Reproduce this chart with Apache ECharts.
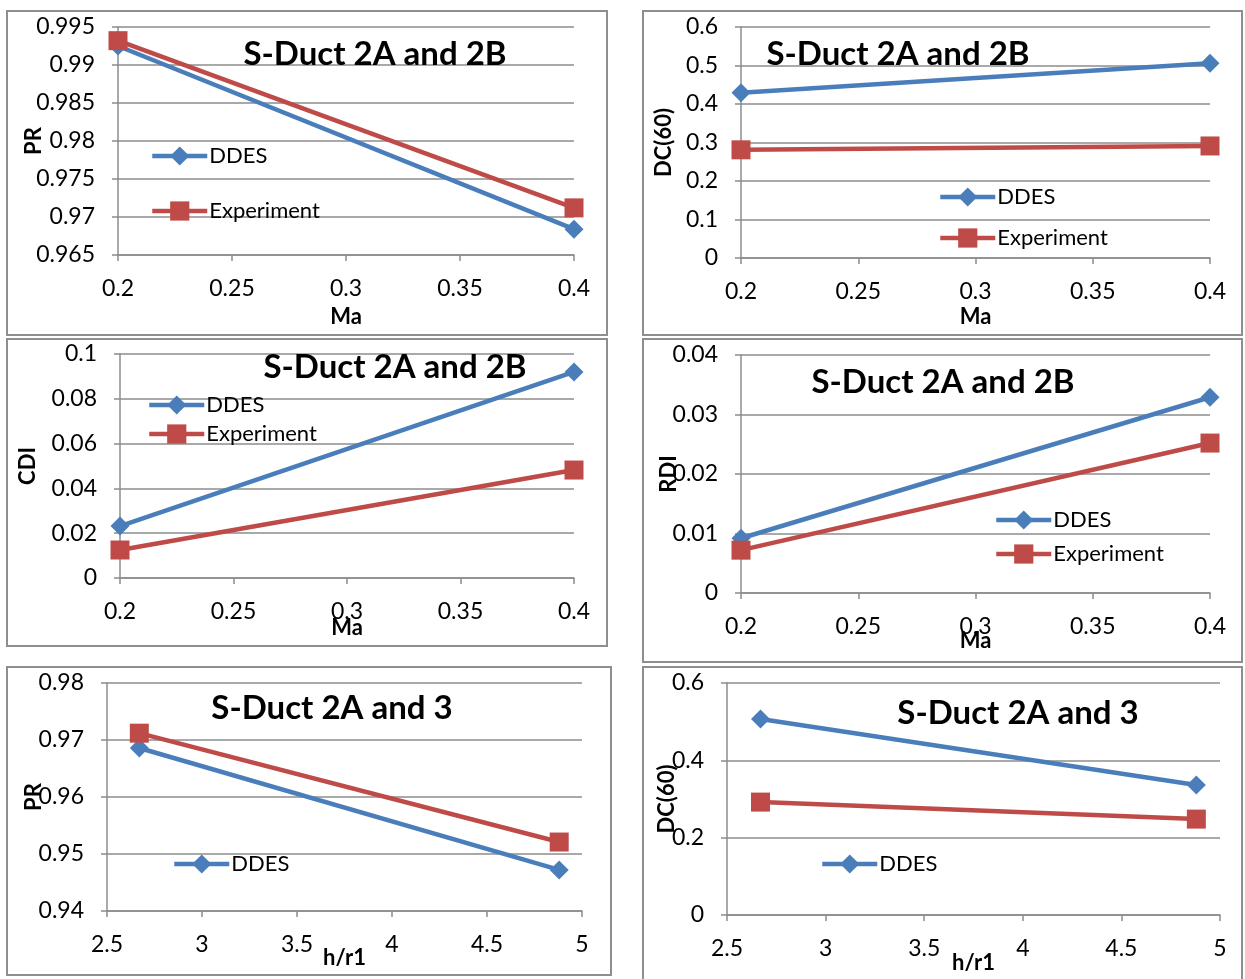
<!DOCTYPE html>
<html>
<head>
<meta charset="utf-8">
<script src="https://cdn.jsdelivr.net/npm/echarts@6/dist/echarts.min.js"></script>
<style>
  html, body { margin: 0; padding: 0; background: #fff; }
  #chart { width: 1245px; height: 979px; }
</style>
</head>
<body>
<div id="chart"></div>
<script>
// Mach number sweep (panels a-d) and h/r1 sweep (panels e-f)
const machValues = [0.2, 0.4];
const hr1Values = [2.67, 4.88];

// Pressure recovery vs Ma
const prMaDDES = [0.9925, 0.9684];
const prMaExp = [0.9932, 0.9712];
// DC(60) vs Ma
const dcMaDDES = [0.429, 0.506];
const dcMaExp = [0.281, 0.291];
// CDI vs Ma
const cdiMaDDES = [0.0232, 0.092];
const cdiMaExp = [0.0125, 0.0482];
// RDI vs Ma
const rdiMaDDES = [0.0092, 0.0329];
const rdiMaExp = [0.0072, 0.0252];
// Pressure recovery vs h/r1
const prHrDDES = [0.9686, 0.9472];
const prHrExp = [0.9712, 0.9521];
// DC(60) vs h/r1
const dcHrDDES = [0.507, 0.336];
const dcHrExp = [0.292, 0.248];

const titleAB = 'S-Duct 2A and 2B';
const title23 = 'S-Duct 2A and 3';

const BLUE = '#4a7ebb';
const RED = '#be4b48';
const GRID = '#8c8c8c';
const FONT = 'Lato, "Open Sans", sans-serif';

const chart = echarts.init(document.getElementById('chart'), null, { renderer: 'canvas' });

// Panel layout: plot rectangle, axis ranges, names, legend rows (left, centre y) and title spot
const panels = [
  { grid: [118, 27, 456, 228], x: [0.2, 0.4, 0.05], y: [0.965, 0.995, 0.005],
    xName: 'Ma', yName: 'PR', xGap: 51, yGap: 73, xs: machValues, d: prMaDDES, e: prMaExp,
    title: titleAB, tPos: [375, 54], legendX: 150, rows: [157, 212] },
  { grid: [741, 27, 469, 231], x: [0.2, 0.4, 0.05], y: [0, 0.6, 0.1],
    xName: 'Ma', yName: 'DC(60)', xGap: 48, yGap: 66, xs: machValues, d: dcMaDDES, e: dcMaExp,
    title: titleAB, tPos: [898, 54], legendX: 938, rows: [198, 239] },
  { grid: [120, 354, 454, 224], x: [0.2, 0.4, 0.05], y: [0, 0.1, 0.02],
    xName: 'Ma', yName: 'CDI', xGap: 39, yGap: 81, xs: machValues, d: cdiMaDDES, e: cdiMaExp,
    title: titleAB, tPos: [395, 367], legendX: 147, rows: [406, 435] },
  { grid: [741, 355, 469, 238], x: [0.2, 0.4, 0.05], y: [0, 0.04, 0.01],
    xName: 'Ma', yName: 'RDI', xGap: 37, yGap: 61, xs: machValues, d: rdiMaDDES, e: rdiMaExp,
    title: titleAB, tPos: [943, 382], legendX: 994, rows: [521, 555] },
  { grid: [107, 683, 475, 228], x: [2.5, 5, 0.5], y: [0.94, 0.98, 0.01],
    xName: 'h/r1', yName: 'PR', xGap: 36, yGap: 62, xs: hr1Values, d: prHrDDES, e: prHrExp,
    title: title23, tPos: [332, 708], legendX: 172, rows: [865] },
  { grid: [727, 683, 493, 232], x: [2.5, 5, 0.5], y: [0, 0.6, 0.2],
    xName: 'h/r1', yName: 'DC(60)', xGap: 37, yGap: 49, xs: hr1Values, d: dcHrDDES, e: dcHrExp,
    title: title23, tPos: [1018, 713], legendX: 820, rows: [865] }
];

// Outer frame of each panel
const frames = [
  [7, 11, 600, 324], [643, 11, 599, 324],
  [7, 339, 600, 307], [643, 339, 599, 323],
  [7, 667, 604, 308], [643, 667, 599, 320]
];

const fmt = v => String(parseFloat(Number(v).toFixed(6)));

const grids = [], xAxes = [], yAxes = [], series = [], legends = [], graphics = [];

frames.forEach(f => {
  graphics.push({
    type: 'rect', shape: { x: f[0], y: f[1], width: f[2], height: f[3] },
    style: { fill: 'none', stroke: '#8e8e8e', lineWidth: 2 }, z: 0
  });
});

const LEG_H = 24;
const legendNames = ['DDES', 'Experiment'];

panels.forEach((p, i) => {
  grids.push({ left: p.grid[0], top: p.grid[1], width: p.grid[2], height: p.grid[3], containLabel: false });
  xAxes.push({
    type: 'value', gridIndex: i, min: p.x[0], max: p.x[1], interval: p.x[2],
    name: p.xName, nameLocation: 'middle', nameGap: p.xGap, nameMoveOverlap: false,
    nameTextStyle: { fontFamily: FONT, fontWeight: 'bold', fontSize: 22, color: '#000' },
    axisLine: { show: true, onZero: false, lineStyle: { color: GRID, width: 1.5 } },
    axisTick: { show: true, length: 6, lineStyle: { color: GRID, width: 1.5 } },
    splitLine: { show: false },
    axisLabel: { fontFamily: FONT, fontSize: 23, color: '#000', margin: 22, formatter: fmt,
                 showMinLabel: true, showMaxLabel: true }
  });
  yAxes.push({
    type: 'value', gridIndex: i, min: p.y[0], max: p.y[1], interval: p.y[2],
    name: p.yName, nameLocation: 'middle', nameGap: p.yGap, nameRotate: 90, nameMoveOverlap: false,
    nameTextStyle: { fontFamily: FONT, fontWeight: 'bold', fontSize: 22, color: '#000' },
    axisLine: { show: true, onZero: false, lineStyle: { color: GRID, width: 1.5 } },
    axisTick: { show: true, length: 6, lineStyle: { color: GRID, width: 1.5 } },
    splitLine: { show: true, lineStyle: { color: GRID, width: 1.5 } },
    axisLabel: { fontFamily: FONT, fontSize: 23, color: '#000', margin: 23, formatter: fmt,
                 showMinLabel: true, showMaxLabel: true }
  });
  const twoRows = p.rows.length === 2;
  series.push({
    name: 'DDES', type: 'line', xAxisIndex: i, yAxisIndex: i,
    data: p.xs.map((x, k) => [x, p.d[k]]),
    symbol: 'diamond', symbolSize: 19, showAllSymbol: true,
    lineStyle: { color: BLUE, width: 4.5 }, itemStyle: { color: BLUE },
    emphasis: { disabled: true }, z: 3, animation: false
  });
  series.push({
    name: twoRows ? 'Experiment' : 'Experiment ',
    type: 'line', xAxisIndex: i, yAxisIndex: i,
    data: p.xs.map((x, k) => [x, p.e[k]]),
    symbol: 'rect', symbolSize: 19, showAllSymbol: true,
    lineStyle: { color: RED, width: 4.5 }, itemStyle: { color: RED },
    emphasis: { disabled: true }, z: 4, animation: false
  });
  p.rows.forEach((cy, r) => {
    legends.push({
      left: p.legendX, top: cy - LEG_H / 2, orient: 'vertical',
      data: [legendNames[r]],
      itemWidth: 55, itemHeight: LEG_H, itemGap: 0,
      lineStyle: { width: 4.5 },
      textStyle: { fontFamily: FONT, fontSize: 22, color: '#000', padding: [0, 0, 0, -3] },
      selectedMode: false, padding: 0
    });
  });
  graphics.push({
    type: 'text', x: p.tPos[0], y: p.tPos[1], z: 10,
    style: { text: p.title, fontFamily: FONT, fontWeight: 'bold', fontSize: 33, fill: '#000',
             align: 'center', verticalAlign: 'middle' }
  });
});

chart.setOption({
  animation: false,
  backgroundColor: '#fff',
  grid: grids,
  xAxis: xAxes,
  yAxis: yAxes,
  legend: legends,
  series: series,
  graphic: graphics
});
</script>
</body>
</html>
